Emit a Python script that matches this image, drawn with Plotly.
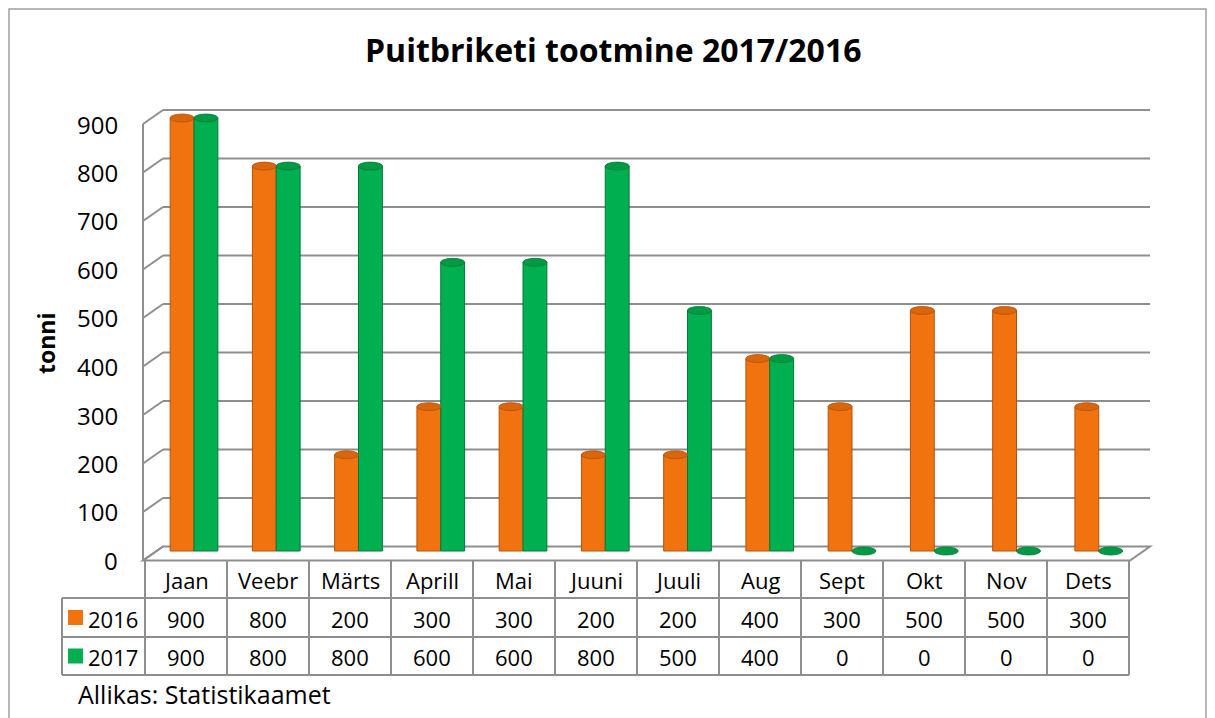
import plotly.graph_objects as go

months = ["Jaan", "Veebr", "Märts", "Aprill", "Mai", "Juuni", "Juuli", "Aug", "Sept", "Okt", "Nov", "Dets"]
v2016 = [900, 800, 200, 300, 300, 200, 200, 400, 300, 500, 500, 300]
v2017 = [900, 800, 800, 600, 600, 800, 500, 400, 0, 0, 0, 0]
series_names = ["2016", "2017"]
title_text = "Puitbriketi tootmine 2017/2016"
y_title = "tonni"
source_text = "Allikas: Statistikaamet"
y_ticks = [0, 100, 200, 300, 400, 500, 600, 700, 800, 900]

W, H = 1215, 718
OFF = 8  # page body margin
FONT = "'Open Sans', Lato, sans-serif"
ORANGE, ORANGE_D, ORANGE_T = "#F07310", "#B5520A", "#D9650C"
GREEN, GREEN_D, GREEN_T = "#00B050", "#007A36", "#009A45"
GRID = "#8E8E8E"

def xp(px):
    return (px - OFF) / W

def yp(py):
    return 1 - (py - OFF) / H

# back wall geometry (pixels)
BX0, BX1 = 163, 1150
BY0, BY1 = 546.5, 110
DX, DY = -20, 14  # front offset
scale = (BY0 - BY1) / 900.0

def yback(v):
    return BY0 - v * scale

# bar axis geometry: value 0 at y=551, 900 at y=118
BAR_TOP, BAR_BOT = 100, 565
bscale = (551 - 118) / 900.0
b_r0 = -(BAR_BOT - 551) / bscale
b_r1 = b_r0 + (BAR_BOT - BAR_TOP) / bscale

fig = go.Figure()

idx = list(range(len(months)))
w = 0.29
fig.add_trace(go.Bar(x=idx, y=v2016, name=series_names[0], width=w, offset=-w,
                     marker=dict(color=ORANGE, line=dict(color=ORANGE_D, width=1)), showlegend=False))
fig.add_trace(go.Bar(x=idx, y=v2017, name=series_names[1], width=w, offset=0,
                     marker=dict(color=GREEN, line=dict(color=GREEN_D, width=1)), showlegend=False))

shapes = []
annotations = []

def ann(x, y, text, size, xanchor="center", yanchor="middle", **kw):
    annotations.append(dict(x=xp(x), y=yp(y), xref="paper", yref="paper", text=text, showarrow=False,
                            xanchor=xanchor, yanchor=yanchor,
                            font=dict(family=FONT, size=size, color="#000"), **kw))

# back wall gridlines + tick labels + left wall diagonals
for v in y_ticks:
    yb = yback(v)
    if v > 0:
        shapes.append(dict(type="line", xref="paper", yref="paper", x0=xp(BX0), x1=xp(BX1), y0=yp(yb), y1=yp(yb),
                           line=dict(color=GRID, width=2), layer="below"))
    shapes.append(dict(type="line", xref="paper", yref="paper",
                       x0=xp(BX0 + DX), x1=xp(BX0), y0=yp(yb + DY), y1=yp(yb),
                       line=dict(color=GRID, width=2), layer="below"))
    ann(120, yb + DY, str(v), 24, xanchor="right")

# floor
shapes.append(dict(type="path", xref="paper", yref="paper",
                   path=f"M {xp(BX0+DX)},{yp(BY0+DY)} L {xp(BX0)},{yp(BY0)} L {xp(BX1)},{yp(BY0)} L {xp(BX1+DX)},{yp(BY0+DY)} Z",
                   line=dict(color=GRID, width=2), fillcolor="rgba(0,0,0,0)", layer="below"))
# left wall front line
shapes.append(dict(type="line", xref="paper", yref="paper",
                   x0=xp(BX0 + DX), x1=xp(BX0 + DX), y0=yp(BY0 + DY), y1=yp(BY1 + DY),
                   line=dict(color=GRID, width=2), layer="below"))

# cylinder caps
for i in idx:
    for val, off, col, edge in [(v2016[i], -w / 2, ORANGE_T, ORANGE_D), (v2017[i], w / 2, GREEN_T, GREEN_D)]:
        shapes.append(dict(type="circle", xref="x", yref="y", xsizemode="pixel", ysizemode="pixel",
                           xanchor=i + off, yanchor=val, x0=-12, x1=12, y0=-4, y1=4,
                           fillcolor=col, line=dict(color=edge, width=0.8), layer="above"))

# data table
TX0, TL = 145, 62
TX1 = 1129
cw = (TX1 - TX0) / len(months)
ROWS = [560, 598, 637, 675]
TBL = "#8E8E8E"
for ry in ROWS[1:]:
    shapes.append(dict(type="line", xref="paper", yref="paper", x0=xp(TL), x1=xp(TX1), y0=yp(ry), y1=yp(ry),
                       line=dict(color=TBL, width=2)))
shapes.append(dict(type="line", xref="paper", yref="paper", x0=xp(TL), x1=xp(TL), y0=yp(ROWS[1]), y1=yp(ROWS[3]),
                   line=dict(color=TBL, width=2)))
for k in range(len(months) + 1):
    x = TX0 + k * cw
    shapes.append(dict(type="line", xref="paper", yref="paper", x0=xp(x), x1=xp(x), y0=yp(ROWS[0]), y1=yp(ROWS[3]),
                       line=dict(color=TBL, width=2)))
for r, col in [(1, ORANGE), (2, GREEN)]:
    cy = (ROWS[r] + ROWS[r + 1]) / 2
    shapes.append(dict(type="rect", xref="paper", yref="paper", x0=xp(68), x1=xp(83), y0=yp(cy - 7.5), y1=yp(cy + 7.5),
                       fillcolor=col, line=dict(width=0)))
# outer border
shapes.append(dict(type="rect", xref="paper", yref="paper", x0=xp(9), x1=xp(1206), y0=yp(740), y1=yp(9),
                   line=dict(color="#A0A0A0", width=1.5), fillcolor="rgba(0,0,0,0)", layer="below"))

TF = 22
for i, m in enumerate(months):
    cx = TX0 + (i + 0.5) * cw
    for r, txt in [(0, m), (1, str(v2016[i])), (2, str(v2017[i]))]:
        ann(cx, (ROWS[r] + ROWS[r + 1]) / 2 + 1, txt, TF)
for r, name in [(1, series_names[0]), (2, series_names[1])]:
    ann(86, (ROWS[r] + ROWS[r + 1]) / 2 + 1, name, TF, xanchor="left")
ann(613, 49, f"<b>{title_text}</b>", 32)
ann(46, 344, f"<b>{y_title}</b>", 23, textangle=-90)
ann(76, 694, source_text, 25, xanchor="left")

fig.update_layout(
    width=W, height=H, autosize=False,
    margin=dict(l=0, r=0, t=0, b=0, autoexpand=False),
    paper_bgcolor="white", plot_bgcolor="rgba(0,0,0,0)",
    barmode="overlay",
    xaxis=dict(domain=[xp(BX0), xp(BX1)], range=[-0.377, 11.623], visible=False, fixedrange=True),
    yaxis=dict(domain=[yp(BAR_BOT), yp(BAR_TOP)], range=[b_r0, b_r1], visible=False, fixedrange=True),
    shapes=shapes, annotations=annotations,
    font=dict(family=FONT),
)

fig.write_html("out.html")
